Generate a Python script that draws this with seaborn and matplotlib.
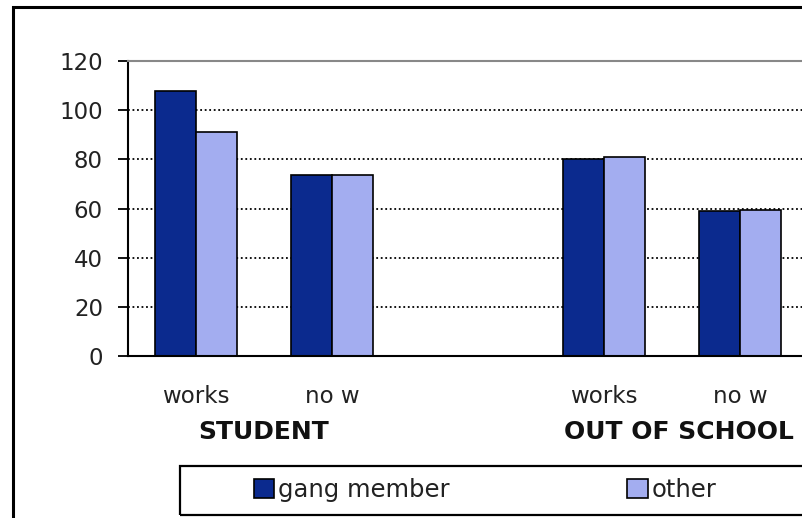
import matplotlib
matplotlib.use("Agg")
import matplotlib.pyplot as plt
from matplotlib.patches import Rectangle, Patch
from matplotlib.transforms import blended_transform_factory
import seaborn as sns
import pandas as pd

# ---- data ----
slots = ["s_works", "s_now", "gap", "o_works", "o_now"]
tick_labels = ["works", "no w", "", "works", "no w"]
bar_slots = ["s_works", "s_now", "o_works", "o_now"]
gang_member = [108, 73.5, 80, 59]
other = [91, 73.5, 81, 59.5]
groups = ["STUDENT", "OUT OF SCHOOL"]
series = ["gang member", "other"]
colors = {"gang member": "#0b2a8e", "other": "#a3adf0"}

df = pd.DataFrame({
    "slot": bar_slots * 2,
    "value": gang_member + other,
    "series": [series[0]] * 4 + [series[1]] * 4,
})

sns.set_style("white")
plt.rcParams["font.family"] = ["DejaVu Sans"]

W, H = 803, 518
fig = plt.figure(figsize=(W / 100, H / 100), dpi=100)
fig.patch.set_facecolor("white")

left, right, top, bottom = 128, 808, 61, 356
ax = fig.add_axes([left / W, 1 - bottom / H, (right - left) / W, (bottom - top) / H])

sns.barplot(data=df, x="slot", y="value", hue="series", order=slots,
            hue_order=series, palette=colors, width=0.6, edgecolor="black",
            linewidth=1.2, ax=ax, legend=False, saturation=1)

ax.set_ylim(0, 120)
ax.set_xlim(-0.5, len(slots) - 0.5)
ax.set_yticks([0, 20, 40, 60, 80, 100, 120])
ax.set_xticks(range(len(slots)))
ax.set_xticklabels(tick_labels)
ax.set_xticks([i - 0.5 for i in range(len(slots) + 1)], minor=True)
ax.tick_params(axis="x", which="major", length=0, pad=21, labelsize=16.5, colors="#222222")
ax.tick_params(axis="x", which="minor", length=7, width=1.3, color="black", direction="out")
ax.tick_params(axis="y", length=7, width=1.3, color="black", direction="out", pad=11,
               labelsize=16.5, labelcolor="#222222", left=True)
ax.set_xlabel("")
ax.set_ylabel("")

# gridlines
for y in [20, 40, 60, 80, 100]:
    ax.axhline(y, color="black", lw=1.3, ls=(0, (1, 1.5)), zorder=0)
ax.set_axisbelow(True)

for s in ["left", "bottom"]:
    ax.spines[s].set_color("black")
    ax.spines[s].set_linewidth(1.5)
ax.spines["top"].set_color("#888888")
ax.spines["top"].set_linewidth(1.5)
ax.spines["right"].set_visible(False)

# group labels
trans = blended_transform_factory(ax.transData, ax.transAxes)
ax.text(0.5, -0.257, groups[0], transform=trans, ha="center", va="center",
        fontsize=18, fontweight="bold", color="#111111")
ax.text(3.55, -0.257, groups[1], transform=trans, ha="center", va="center",
        fontsize=18, fontweight="bold", color="#111111")

# outer chart frame
fig.patches.append(Rectangle((13 / W, -0.1), 1.2, 1 - 7 / H + 0.1,
                             transform=fig.transFigure, fill=False,
                             edgecolor="black", lw=2.2))

# legend box
fig.patches.append(Rectangle((180 / W, 1 - 515 / H), 1.2, (515 - 466) / H,
                             transform=fig.transFigure, fill=False,
                             edgecolor="black", lw=1.6))
handles = [Patch(facecolor=colors[s], edgecolor="black", lw=1.2) for s in series]
fig.legend(handles, series, loc="center left",
           bbox_to_anchor=(244 / W, 1 - 490 / H), ncol=2, frameon=False,
           fontsize=17.5, handlelength=0.85, handleheight=0.85, handletextpad=0.15,
           columnspacing=7.3, borderaxespad=0, labelcolor="#222222")

fig.savefig("out.png", dpi=100, facecolor="white")
